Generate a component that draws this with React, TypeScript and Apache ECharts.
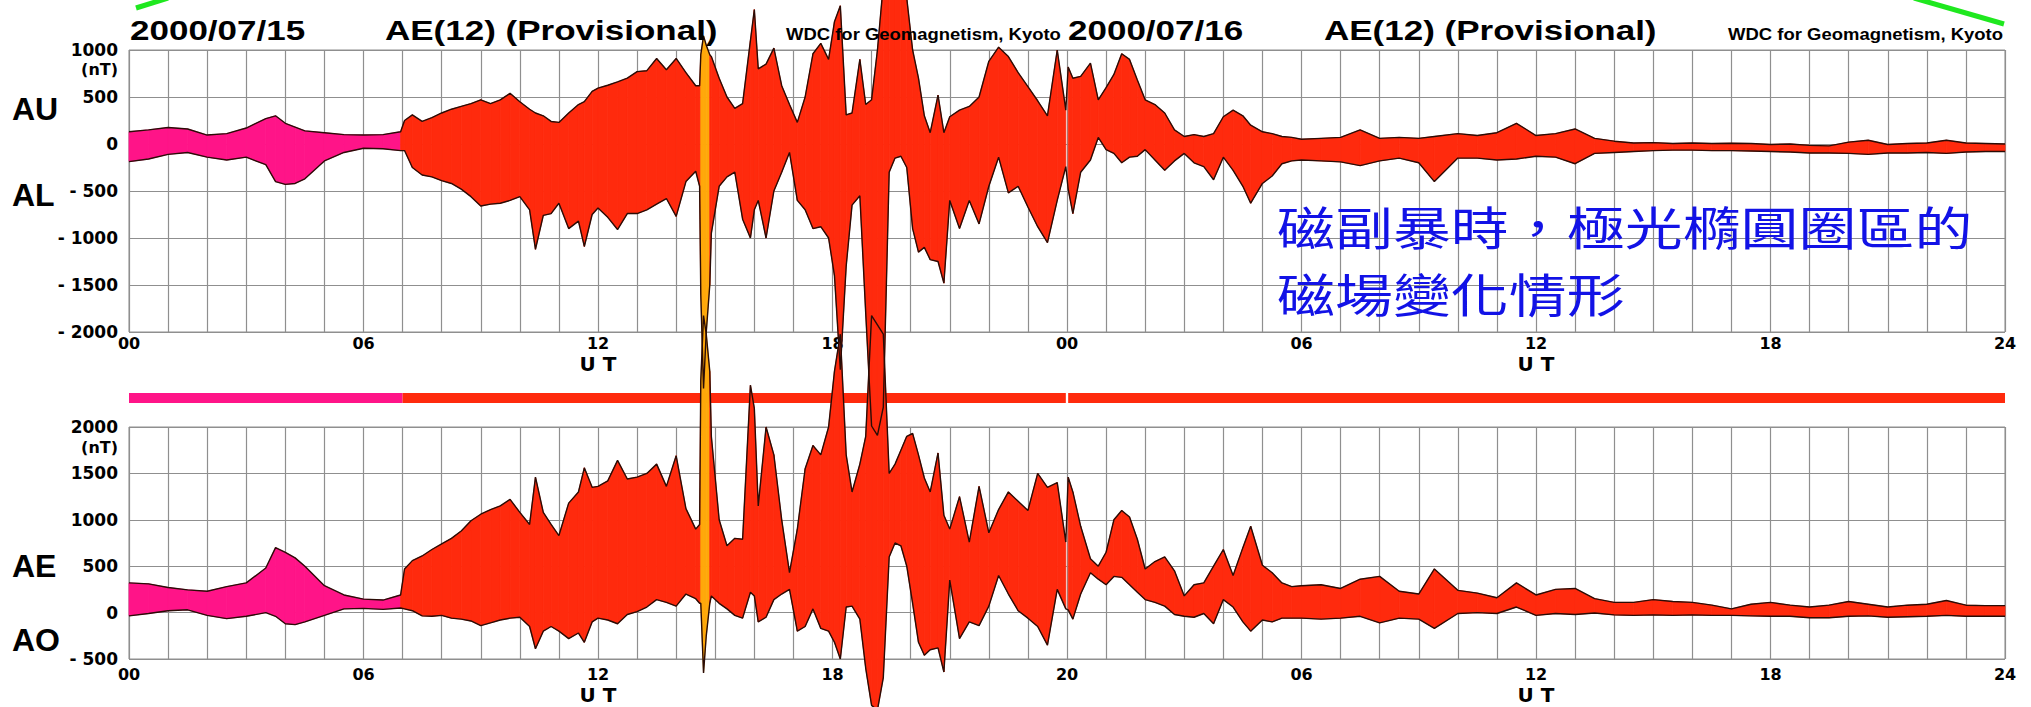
import React, { useEffect, useRef } from "react";
import * as echarts from "echarts";

// Hours since 2000/07/15 00 UT
const hours = [
  0, 0.5, 1, 1.5, 2, 2.5, 3, 3.5, 3.75, 4, 4.25, 4.5, 5, 5.5, 6, 6.5, 6.95,
  7.05, 7.25, 7.5, 7.75, 8, 8.25, 8.5, 8.75, 9, 9.25, 9.5, 9.75, 10, 10.25, 10.4, 10.6, 10.8, 11, 11.25, 11.5, 11.65, 11.85, 12, 12.25, 12.5, 12.75, 13, 13.25, 13.5, 13.75, 14, 14.25, 14.5, 14.6,
  14.63, 14.7, 14.77, 14.86,
  14.9, 15.1, 15.3, 15.5, 15.7, 15.9, 16.0, 16.1, 16.3, 16.5, 16.7, 16.9, 17.1, 17.3, 17.5, 17.7, 17.9, 18.05, 18.2, 18.35, 18.5, 18.7, 18.85, 19.0, 19.15, 19.3, 19.45, 19.6, 19.75, 19.9, 20.05, 20.2, 20.35, 20.5, 20.7, 20.85, 21.0, 21.25, 21.5, 21.75, 22.0, 22.25, 22.5, 22.75, 23.0, 23.25, 23.5, 23.75, 23.97,
  24.03, 24.15, 24.35, 24.6, 24.8, 25.0, 25.2, 25.4, 25.6, 25.8, 26.0, 26.25, 26.5, 26.75, 27.0, 27.25, 27.5, 27.75, 28.0, 28.25, 28.5, 28.7, 29.0, 29.25, 29.5, 29.75, 30.0, 30.5, 31.0, 31.5, 32.0, 32.5, 33.0, 33.4, 34.0, 34.5, 35.0, 35.5, 36.0, 36.5, 37.0, 37.5, 38.0, 38.5, 39.0, 39.5, 40.0, 40.5, 41.0, 41.5, 42.0, 42.5, 43.0, 43.5, 44.0, 44.5, 45.0, 45.5, 46.0, 46.5, 47.0, 47.5, 48.0,
];

// AU (upper envelope, top panel), nT
const au = [
  130, 150, 175, 160, 95, 110, 170, 270, 300, 220, 180, 140, 120, 100, 95, 100, 130,
  250, 310, 240, 280, 330, 370, 400, 430, 470, 430, 470, 540, 450, 370, 330, 300, 240, 230, 330, 420, 450, 560, 595, 625, 660, 700, 770, 780, 910, 790, 910, 760, 620, 620,
  950, 1150, 1050, 950,
  930, 700, 500, 380, 430, 1100, 1430, 800, 850, 1020, 620, 420, 230, 500, 960, 1070, 900, 1300, 1470, 310, 330, 900, 420, 470, 1000, 1700, 1800, 1750, 1600, 1550, 1000, 700, 300, 120, 520, 120, 290, 360, 400, 500, 880, 1030, 930, 760, 610, 460, 300, 1000, 360,
  820, 700, 720, 860, 470, 600, 740, 960, 900, 680, 470, 420, 330, 150, 80, 100, 80, 110, 290, 360, 300, 200, 130, 110, 80, 70, 50, 60, 70, 150, 60, 70, 60, 80, 110, 90, 120, 220, 90, 110, 160, 60, 30, 10, 15, 5, 10, 5, 8, 5, -5, 0, -15, -20, 20, 40, -5, 5, 10, 40, 10, 5, 0,
];

// AL (lower envelope, top panel), nT
const al = [
  -188, -160, -110, -90, -140, -170, -140, -220, -400, -430, -420, -370, -180, -90, -45, -50, -70,
  -70, -250, -330, -350, -390, -420, -480, -560, -660, -640, -630, -600, -560, -700, -1120, -760, -740, -630, -900, -820, -1090, -750, -680, -780, -910, -740, -740, -700, -640, -580, -770, -400, -290, -450,
  -1600, -2600, -2000, -1500,
  -950, -450, -350, -300, -800, -1000, -700, -600, -1000, -500, -300, -90, -600, -700, -900, -880, -1000, -1400, -2400, -1300, -650, -550, -1800, -3000, -3100, -2800, -300, -150, -130, -250, -900, -1150, -1100, -1230, -1250, -1480, -600, -900, -600, -850, -450, -140, -520, -450, -670, -880, -1050, -600, -240,
  -480, -740, -300, -170, 70, -60, -100, -200, -140, -130, -60, -170, -280, -180, -100, -200, -240, -380, -140, -280, -450, -630, -420, -340, -210, -180, -170, -180, -190, -230, -180, -150, -200, -400, -150, -150, -170, -160, -130, -140, -210, -100, -90, -80, -70, -65, -65, -70, -70, -75, -80, -85, -95, -95, -100, -110, -95, -95, -90, -100, -85, -80, -80,
];

// AE (upper envelope, bottom panel), nT
const ae = [
  320, 310, 270, 245, 230, 280, 320, 480, 700, 650, 590, 500, 290, 190, 145, 135, 190,
  470, 560, 610, 680, 740, 800, 880, 990, 1060, 1110, 1150, 1220, 1080, 950, 1460, 1080, 950, 830, 1180, 1300, 1560, 1350, 1360, 1420, 1640, 1440, 1460, 1500, 1600, 1360, 1690, 1120, 900, 950,
  2500, 3200, 3000, 2600,
  1900, 1000, 720, 800, 790, 2450, 2200, 1150, 2000, 1700, 1000, 430, 900, 1550, 1800, 1700, 2000, 2600, 3000, 1700, 1300, 1600, 1900, 3200, 3100, 3000, 1500, 1600, 1750, 1900, 1930, 1700, 1450, 1300, 1720, 1050, 900, 1250, 760, 1360, 860, 1110, 1300, 1200, 1100, 1500, 1350, 1400, 760,
  1460, 1300, 930, 580, 500, 650, 1000, 1100, 1030, 790, 470, 550, 600, 450, 180, 300, 320, 500, 680, 400, 700, 930, 510, 430, 320, 280, 290, 300, 260, 360, 390, 230, 200, 470, 240, 210, 160, 320, 190, 250, 260, 150, 110, 110, 140, 120, 110, 80, 40, 90, 110, 80, 60, 80, 120, 90, 60, 80, 90, 130, 80, 75, 75,
];

// AO (lower envelope, bottom panel), nT
const ao = [
  -35, -10, 20, 30, -30, -65, -40, 0, -40, -120, -130, -100, -30, 40, 45, 35, 50,
  40, 20, -35, -40, -30, -60, -70, -90, -140, -110, -80, -60, -50, -150, -390, -200, -150, -200, -280, -220, -320, -100, -60, -80, -120, -20, 10, 60, 140, 110, 70, 200, 150, 100,
  100, -650, -250, 100,
  180, 100, 40, -30, -60, 220, 180, -100, -50, 140, 200, 250, -200, -150, 40, -170, -200, -320, -500, 60, 70, -70, -600, -1000, -1050, -700, 600, 750, 720, 500, 100, -320, -460, -400, -380, -640, 350, -280, -100, -140, 70, 400, 200, 20, -60, -150, -350, 250, 40,
  30, -70, 200, 430, 360, 300, 390, 380, 300, 220, 140, 110, 70, -20, -40, -50, -10, -120, 140, 60, -100, -200, -80, -100, -60, -60, -60, -70, -60, -40, -110, -60, -70, -170, -10, 0, -10, 60, -30, -10, -20, -5, -25, -30, -25, -30, -25, -30, -30, -35, -40, -40, -55, -55, -40, -35, -50, -45, -40, -30, -40, -38, -40,
];

// Colour segments of the record (hours)
const segStart = [0, 7, 14.63, 14.86, 24.03];
const segEnd = [7, 14.63, 14.86, 23.97, 48];
const segColor = ["#ff1488", "#ff2a0d", "#ffa80a", "#ff2a0d", "#ff2a0d"];

const topTickLabels = ["00", "06", "12", "18", "00", "06", "12", "18", "24"];
const bottomTickLabels = ["00", "06", "12", "18", "20", "06", "12", "18", "24"];

const AXIS_FONT = "DejaVu Sans";
const GRID_COLOR = "#8f8f8f";
const OUTLINE = "#2a0c06";

function colorAt(t: number): string | null {
  for (let k = 0; k < segStart.length; k++) {
    if (t >= segStart[k] && t < segEnd[k]) return segColor[k];
  }
  return null;
}

function bandSeries(idx: number, lo: number[], hi: number[]) {
  const n = Math.min(hours.length, lo.length, hi.length);
  const data: number[][] = [];
  for (let i = 0; i < n - 1; i++) {
    data.push([hours[i], hours[i + 1], lo[i], hi[i], lo[i + 1], hi[i + 1]]);
  }
  return {
    type: "custom",
    xAxisIndex: idx,
    yAxisIndex: idx,
    clip: false,
    silent: true,
    z: 2,
    encode: { x: [0, 1], y: [2, 3, 4, 5] },
    data,
    renderItem: (_params: any, api: any) => {
      const t0 = api.value(0);
      const t1 = api.value(1);
      const c = colorAt((t0 + t1) / 2);
      if (!c) return { type: "group", children: [] };
      const a = api.coord([t0, api.value(2)]);
      const b = api.coord([t0, api.value(3)]);
      const d = api.coord([t1, api.value(5)]);
      const e = api.coord([t1, api.value(4)]);
      return {
        type: "polygon",
        shape: { points: [a, b, d, e] },
        style: { fill: c, stroke: c, lineWidth: 0.8 },
      };
    },
  };
}

function outlineSeries(idx: number, vals: number[]) {
  const n = Math.min(hours.length, vals.length);
  const data: number[][] = [];
  for (let i = 0; i < n; i++) data.push([hours[i], vals[i]]);
  return {
    type: "line",
    xAxisIndex: idx,
    yAxisIndex: idx,
    data,
    symbol: "none",
    showSymbol: false,
    clip: false,
    silent: true,
    z: 3,
    lineStyle: { color: OUTLINE, width: 1.4 },
  };
}

function xAxisFor(idx: number, labels: string[], margin: number) {
  return {
    type: "value",
    gridIndex: idx,
    min: 0,
    max: 48,
    interval: 1,
    axisLine: { show: false },
    axisTick: { show: false },
    splitLine: { show: true, lineStyle: { color: GRID_COLOR, width: 1.2 } },
    axisLabel: {
      show: true,
      margin,
      color: "#000",
      fontFamily: AXIS_FONT,
      fontWeight: "bold",
      fontSize: 16,
      lineHeight: 18,
      showMinLabel: true,
      showMaxLabel: true,
      formatter: (v: number) => {
        const h = Math.round(v);
        if (h % 6 !== 0) return "";
        const lbl = labels[h / 6];
        return h % 24 === 12 ? lbl + "\n{ut|U T}" : lbl;
      },
      rich: {
        ut: {
          fontFamily: AXIS_FONT,
          fontWeight: "bold",
          fontSize: 20,
          lineHeight: 24,
          color: "#000",
        },
      },
    },
  };
}

function yAxisFor(idx: number, min: number, max: number) {
  return {
    type: "value",
    gridIndex: idx,
    min,
    max,
    interval: 500,
    axisLine: { show: false },
    axisTick: { show: false },
    splitLine: { show: true, lineStyle: { color: GRID_COLOR, width: 1.2 } },
    axisLabel: {
      margin: 11,
      color: "#000",
      fontFamily: AXIS_FONT,
      fontWeight: "bold",
      fontSize: 17,
      formatter: (v: number) => (v < 0 ? "- " + -v : String(v)),
    },
  };
}

function text(
  str: string,
  x: number,
  y: number,
  font: string,
  opts: { align?: string; scaleX?: number; fill?: string } = {}
) {
  const align = opts.align || "left";
  return {
    type: "text",
    x,
    y,
    scaleX: opts.scaleX || 1,
    silent: true,
    z: 10,
    style: {
      text: str,
      font,
      fill: opts.fill || "#000",
      textAlign: align,
      align,
      textVerticalAlign: "middle",
      verticalAlign: "middle",
    },
  };
}

export default function App() {
  const ref = useRef<HTMLDivElement>(null);

  useEffect(() => {
    if (!ref.current) return;
    const chart = echarts.init(ref.current, null, { renderer: "svg" });
    const titleFont = 'bold 28px "Liberation Sans"';
    const wdcFont = 'bold 16.5px "Liberation Sans"';
    const sideFont = 'bold 32px "Liberation Sans"';
    const unitFont = 'bold 16px "DejaVu Sans"';
    const cjkFont = '46px "Noto Sans CJK TC"';

    const option: any = {
      animation: false,
      backgroundColor: "#ffffff",
      grid: [
        { left: 129, top: 50, width: 1876, height: 282, show: true, borderColor: GRID_COLOR, borderWidth: 1 },
        { left: 129, top: 427, width: 1876, height: 233, show: true, borderColor: GRID_COLOR, borderWidth: 1 },
        { left: 129, top: 393, width: 1876, height: 10, show: false },
      ],
      xAxis: [
        xAxisFor(0, topTickLabels, 2),
        xAxisFor(1, bottomTickLabels, 6),
        { type: "value", gridIndex: 2, min: 0, max: 48, show: false },
      ],
      yAxis: [
        yAxisFor(0, -2000, 1000),
        yAxisFor(1, -500, 2000),
        { type: "value", gridIndex: 2, min: 0, max: 1, show: false },
      ],
      series: [
        {
          type: "custom",
          xAxisIndex: 2,
          yAxisIndex: 2,
          silent: true,
          z: 1,
          encode: { x: [0, 1] },
          data: segStart.map((s, k) => [s, segEnd[k], k]),
          renderItem: (_p: any, api: any) => {
            const p0 = api.coord([api.value(0), 1]);
            const p1 = api.coord([api.value(1), 0]);
            return {
              type: "rect",
              shape: { x: p0[0], y: p0[1], width: p1[0] - p0[0], height: p1[1] - p0[1] },
              style: { fill: segColor[api.value(2)] },
            };
          },
        },
        bandSeries(0, al, au),
        bandSeries(1, ao, ae),
        outlineSeries(0, au),
        outlineSeries(0, al),
        outlineSeries(1, ae),
        outlineSeries(1, ao),
      ],
      graphic: [
        text("2000/07/15", 130, 30, titleFont, { scaleX: 1.25 }),
        text("AE(12) (Provisional)", 385, 30, titleFont, { scaleX: 1.25 }),
        text("WDC for Geomagnetism, Kyoto", 786, 34, wdcFont, { scaleX: 1.12 }),
        text("2000/07/16", 1068, 30, titleFont, { scaleX: 1.25 }),
        text("AE(12) (Provisional)", 1324, 30, titleFont, { scaleX: 1.25 }),
        text("WDC for Geomagnetism, Kyoto", 2003, 34, wdcFont, { scaleX: 1.12, align: "right" }),
        text("AU", 12, 109, sideFont),
        text("AL", 12, 195, sideFont),
        text("AE", 12, 566, sideFont),
        text("AO", 12, 640, sideFont),
        text("(nT)", 118, 69, unitFont, { align: "right" }),
        text("(nT)", 118, 447, unitFont, { align: "right" }),
        text("磁副暴時，極光橢圓圈區的", 1277, 225, cjkFont, { scaleX: 1.26, fill: "#1212e6" }),
        text("磁場變化情形", 1277, 292, cjkFont, { scaleX: 1.26, fill: "#1212e6" }),
        {
          type: "line",
          silent: true,
          z: 10,
          shape: { x1: 136, y1: 8, x2: 168, y2: -2 },
          style: { stroke: "#1fe81f", lineWidth: 5 },
        },
        {
          type: "line",
          silent: true,
          z: 10,
          shape: { x1: 1914, y1: -2, x2: 2004, y2: 24 },
          style: { stroke: "#1fe81f", lineWidth: 5 },
        },
      ],
    };

    chart.setOption(option);
    return () => {
      chart.dispose();
    };
  }, []);

  return (
    <div
      ref={ref}
      style={{ position: "absolute", left: 0, top: 0, width: 2031, height: 707, background: "#fff" }}
    />
  );
}
